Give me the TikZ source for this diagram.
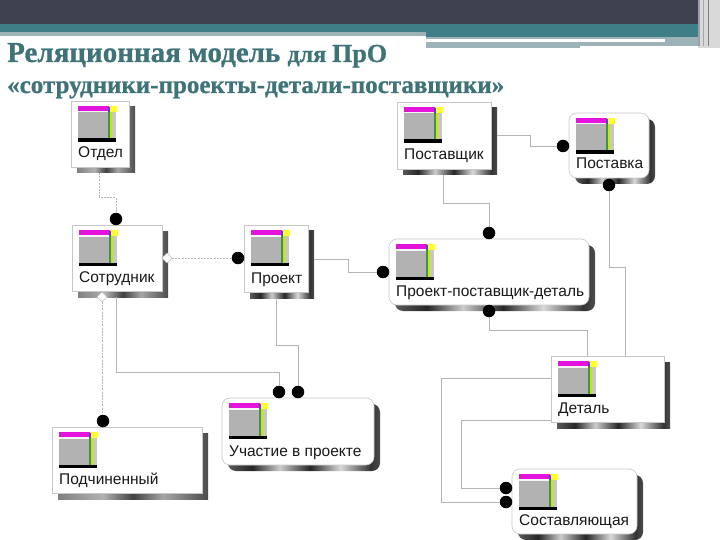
\documentclass[tikz,border=0pt]{standalone}
\usepackage{fontspec}
\setmainfont{Liberation Sans}
\newfontfamily\titlefont[FakeBold=0.9]{Liberation Serif Bold}
\usetikzlibrary{shapes.geometric,calc}
\definecolor{hdark}{HTML}{40414F}
\definecolor{hteal}{HTML}{3F7E86}
\definecolor{hgray}{HTML}{9DB3B7}
\definecolor{ttl}{HTML}{3F7378}
\definecolor{conn}{HTML}{B4B4B4}
\definecolor{imag}{HTML}{E414DC}
\definecolor{iyel}{HTML}{FFFF30}
\pgfdeclarehorizontalshading{chromeH}{100bp}{color(0bp)=(black!65);color(25bp)=(black!65);color(33bp)=(black!85);color(42bp)=(black!20);color(52bp)=(black!85);color(62bp)=(black!15);color(72bp)=(black!80);color(75bp)=(black!70);color(100bp)=(black!70)}
\pgfdeclareverticalshading{chromeV}{100bp}{color(0bp)=(black!80);color(25bp)=(black!80);color(38bp)=(black!25);color(50bp)=(black!90);color(62bp)=(black!25);color(75bp)=(black!85);color(100bp)=(black!85)}
\pgfdeclarehorizontalshading{matteH}{100bp}{color(0bp)=(black!50);color(25bp)=(black!50);color(40bp)=(black!30);color(50bp)=(black!75);color(60bp)=(black!35);color(75bp)=(black!70);color(100bp)=(black!70)}
\pgfdeclareverticalshading{matteV}{100bp}{color(0bp)=(black!55);color(25bp)=(black!55);color(75bp)=(black!60);color(100bp)=(black!60)}
\tikzset{
  shadowbase/.style={inner sep=0pt,outer sep=0pt,anchor=center},
  facebase/.style={inner sep=0pt,outer sep=0pt,anchor=center,draw=black!22,line width=.6pt,fill=white},
  squarebox/.style={},
  roundbox/.style={rounded corners=8pt},
  boxlabel/.style={anchor=base west,inner sep=0pt,font=\fontsize{15.5}{17}\selectfont,text=black!90},
  dot/.style={circle,fill=black,minimum size=12.5pt,inner sep=0pt,outer sep=0pt},
  diam/.style={diamond,draw=black!25,fill=white,line width=.6pt,minimum size=10pt,inner sep=0pt,outer sep=0pt},
  solidconn/.style={draw=conn,line width=.9pt},
  dotconn/.style={draw=conn,line width=.9pt,dash pattern=on 2pt off 1.2pt},
  titletext/.style={anchor=base west,inner sep=0pt,text=ttl}
}
% #1 name, #2 l, #3 t, #4 r, #5 b, #6 corner style, #7 finish (chrome/matte), #8 label
\newcommand{\entity}[8]{%
  \node[shadowbase,#6,shading=#7H,minimum width={(#4-#2)*1pt},minimum height={(#5-#3)*1pt},
    path picture={\shade[shading=#7V] ({#4-6},{#3}) rectangle ({#4+8},{#5-1});}]
    (#1S) at ({(#2+#4)/2+6},{(#3+#5)/2+6}) {};
  \node[facebase,#6,minimum width={(#4-#2)*1pt},minimum height={(#5-#3)*1pt}]
    (#1) at ({(#2+#4)/2},{(#3+#5)/2}) {};
  \begin{scope}[shift={({#2+7},{#3+5})}]
    \fill[black!30] (0,5.5) rectangle (30,33);
    \fill[black!22] (33,6) rectangle (38,33);
    \fill[imag] (0,0) rectangle (31,5);
    \fill[black!4] (0,5) rectangle (31,6.5);
    \fill[iyel] (31,0) rectangle (39,6);
    \fill[blue!55!black!70] (29.5,1) rectangle (31.5,6);
    \fill[green!45!black!75] (30,6) rectangle (32,33);
    \fill[yellow!80!green] (32,6) rectangle (33.5,33);
    \fill[black] (0,32.5) rectangle (38,36);
  \end{scope}
  \node[boxlabel] (#1L) at ({#2+7},{#5-9}) {#8};
}
\begin{document}
\begin{tikzpicture}[x=1pt,y=-1pt]
\useasboundingbox (0,0) rectangle (720,540);
% header
\fill[hdark] (0,0) rectangle (720,24);
\fill[hteal] (0,24) rectangle (720,32);
\fill[hgray] (0,32) rectangle (426,36);
\fill[hteal] (426,32) rectangle (720,37);
\fill[hgray] (426,37) rectangle (705,39);
\fill[white] (426,39) rectangle (665,42);
\fill[hgray] (426,42) rectangle (705,46);
\fill[hgray] (426,46) rectangle (580,48);
\fill[hgray] (665,39) rectangle (705,46);
\fill[black!15] (698,0) rectangle (720,48);
\fill[hdark!50] (698,0) rectangle (700,46);
\fill[black!35] (703,0) rectangle (704,46);
\fill[hdark!70] (708,0) rectangle (709,46);
% title
\node[titletext] (title1) at (7,62) {\titlefont\fontsize{29}{32}\selectfont Реляционная модель \fontsize{24}{32}\selectfont для \fontsize{26}{32}\selectfont ПрО};
\node[titletext] (title2) at (7,93) {\titlefont\fontsize{25}{28}\selectfont «сотрудники-проекты-детали-поставщики»};
% entities
\entity{otdel}{71}{101}{129}{167}{squarebox}{matte}{Отдел}
\entity{sotr}{72}{225}{162}{291}{squarebox}{matte}{Сотрудник}
\entity{proekt}{244}{225}{308}{292}{squarebox}{chrome}{Проект}
\entity{postav}{397}{102}{491}{169}{squarebox}{chrome}{Поставщик}
\entity{postavka}{569}{113}{649}{178}{roundbox}{chrome}{Поставка}
\entity{ppd}{389}{239}{589}{305}{roundbox}{chrome}{Проект-поставщик-деталь}
\entity{detal}{551}{356}{664}{422}{squarebox}{chrome}{Деталь}
\entity{sost}{512}{469}{637}{534}{roundbox}{chrome}{Составляющая}
\entity{uchast}{222}{398}{374}{465}{roundbox}{chrome}{Участие в проекте}
\entity{podch}{52}{427}{202}{493}{squarebox}{matte}{Подчиненный}
% connector ends
\node[dot] (dOtdel) at (116,219) {};
\node[dot] (dProekt) at (238,258) {};
\node[dot] (dPodch) at (103,421) {};
\node[dot] (dU1) at (279,392) {};
\node[dot] (dU2) at (298,392) {};
\node[dot] (dPpdL) at (383,272) {};
\node[dot] (dPpdT) at (489,233) {};
\node[dot] (dPpdB) at (489,311) {};
\node[dot] (dPostavka) at (563,146) {};
\node[dot] (dPostavkaB) at (609,185) {};
\node[dot] (dSost1) at (506,488) {};
\node[dot] (dSost2) at (506,502) {};
\node[diam] (dmR) at (167,258) {};
\node[diam] (dmB) at (102,297) {};
% bends
\coordinate (b1) at (99,197);
\coordinate (b2) at (116,372);
\coordinate (b3) at (276,345);
\coordinate (b4) at (348,259);
\coordinate (b5) at (530,135);
\coordinate (b6) at (443,203);
\coordinate (b7) at (587,330);
\coordinate (b8) at (625,267);
\coordinate (b9) at (441,378);
\coordinate (b10) at (461,420);
% connectors
\draw[dotconn] (otdelS.south -| b1) -- (b1) -| (dOtdel);
\draw[dotconn] (dmR) -- (dProekt);
\draw[dotconn] (dmB) -- (dmB |- dPodch.north) ;
\draw[solidconn] (sotrS.south -| b2) -- (b2) -| (dU1);
\draw[solidconn] (proektS.south -| b3) -- (b3) -| (dU2);
\draw[solidconn] (proektS.east |- b4) -- (b4) |- (dPpdL);
\draw[solidconn] (postavS.east |- b5) -- (b5) |- (dPostavka);
\draw[solidconn] (postavS.south -| b6) -- (b6) -| (dPpdT);
\draw[solidconn] (dPpdB) |- (b7) -- (b7 |- detal.north);
\draw[solidconn] (dPostavkaB) |- (b8) -- (b8 |- detal.north);
\draw[solidconn] (detal.west |- b9) -- (b9) |- (dSost2);
\draw[solidconn] (detal.west |- b10) -- (b10) |- (dSost1);
\end{tikzpicture}
\end{document}
